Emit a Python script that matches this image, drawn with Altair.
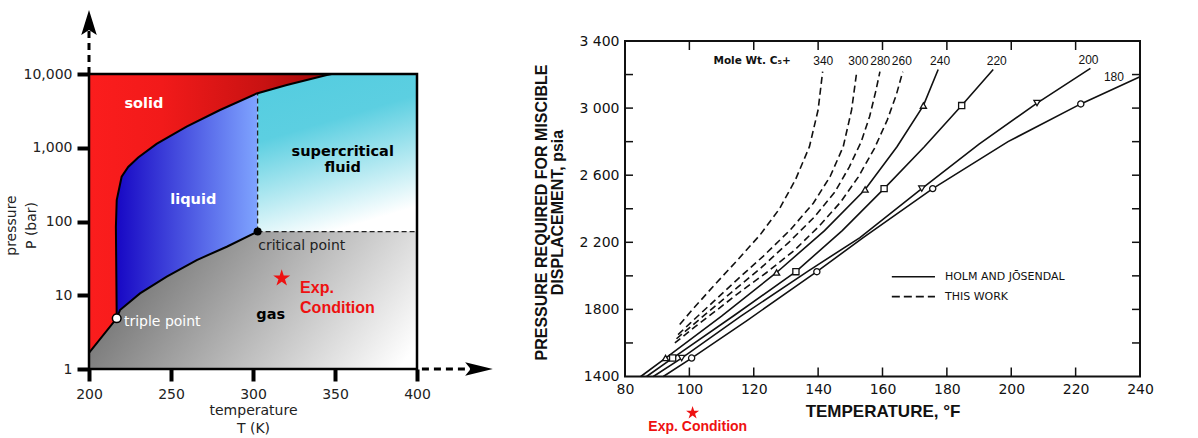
import altair as alt
import pandas as pd

# ======================= LEFT PANEL : phase diagram (T in K, P in bar) =======================
left_xticks = [200, 250, 300, 350, 400]
left_yticks = [1, 10, 100, 1000, 10000]
T_min, T_max = 200.0, 400.0
P_min, P_max = 1.0, 10000.0

# sublimation + vapour-pressure curve (triple point -> critical point)
subvap_T = [200.0, 216.9, 218.9, 231.1, 247.4, 265.7, 284.0, 302.8]
subvap_P = [1.66, 4.87, 6.3, 10.6, 17.9, 30.0, 45.5, 73.0]
# melting curve (from triple point up to the top of the frame)
melt_T = [216.9, 216.4, 216.9, 219.9, 223.9, 230.0, 241.2, 259.5, 279.9, 302.3, 320.6, 345.0, 348.0]
melt_P = [4.87, 85.0, 195.0, 405.0, 550.0, 736.0, 1130.0, 1940.0, 3250.0, 5450.0, 7100.0, 9690.0, 10000.0]

triple_T, triple_P = 216.9, 4.87
crit_T, crit_P = 302.8, 73.0
crit_top_P = 5450.0

region_text = ["solid", "liquid", "supercritical\nfluid", "gas"]
region_T = [233.5, 263.6, 354.7, 310.8]
region_P = [3920.0, 195.0, 884.0, 5.4]
region_col = ["white", "white", "black", "black"]

point_text = ["critical point", "triple point"]
point_T = [303.2, 221.3]
point_P = [46.5, 4.38]
point_col = ["#222222", "white"]

exp_left_T, exp_left_P = 317.5, 17.0
exp_left_text_T, exp_left_text_P = 328.7, 12.5

# axis arrows
arrow_up_T, arrow_up_P1, arrow_up_P2, arrow_up_head_P = 200.0, 10000.0, 42000.0, 50000.0
arrow_rt_P, arrow_rt_T1, arrow_rt_T2, arrow_rt_head_T = 1.0, 403.0, 438.0, 437.8

# ======================= RIGHT PANEL : MMP vs temperature =======================
right_xticks = [80, 100, 120, 140, 160, 180, 200, 220, 240]
right_yticks = [1400, 1800, 2200, 2600, 3000, 3400]
right_ylabels = ["1400", "1800", "2 200", "2 600", "3 000", "3 400"]
minor_psi = [1600, 1800, 2000, 2200, 2400, 2600, 2800, 3000, 3200]
minor_F = [100, 120, 140, 160, 180, 200, 220]
F_min, F_max = 80.0, 240.0
psi_min, psi_max = 1400.0, 3400.0

# solid curves (Holm and Josendal)
c240_F = [84.9, 92.6, 110.0, 127.1, 142.0, 154.6, 164.5, 172.7, 177.3]
c240_P = [1400, 1510, 1760, 2020, 2270, 2515, 2770, 3015, 3230]
c220_F = [86.7, 94.8, 114.0, 133.1, 147.5, 160.5, 173.0, 184.6, 194.4]
c220_P = [1400, 1510, 1765, 2025, 2270, 2520, 2770, 3015, 3230]
c200_F = [88.8, 97.6, 116.0, 137.0, 153.0, 172.2, 190.0, 208.0, 224.6]
c200_P = [1400, 1510, 1760, 2030, 2228, 2520, 2785, 3030, 3237]
c180_F = [91.9, 100.7, 118.0, 139.6, 154.0, 175.6, 199.0, 221.6, 240.0]
c180_P = [1400, 1510, 1735, 2025, 2228, 2520, 2800, 3025, 3187]
# dashed curves (this work)
c340_F = [97.0, 101.0, 108.0, 115.0, 122.0, 128.0, 133.0, 137.3, 140.0, 141.4]
c340_P = [1710, 1800, 1950, 2095, 2245, 2400, 2575, 2770, 2990, 3217]
c300_F = [96.5, 100.2, 107.4, 114.7, 123.0, 131.3, 138.5, 143.7, 147.8, 150.4, 152.0]
c300_P = [1650, 1717, 1845, 1975, 2118, 2273, 2433, 2591, 2770, 2989, 3217]
c280_F = [96.0, 103.7, 113.0, 122.4, 130.9, 138.8, 145.2, 149.7, 153.4, 156.0, 157.9, 159.2]
c280_P = [1625, 1750, 1900, 2050, 2200, 2350, 2500, 2650, 2800, 2950, 3100, 3217]
c260_F = [95.5, 102.0, 108.8, 115.8, 124.0, 132.5, 140.5, 147.0, 152.5, 157.5, 161.5, 164.3, 166.3]
c260_P = [1600, 1700, 1800, 1905, 2020, 2150, 2300, 2440, 2590, 2760, 2930, 3080, 3217]

curve_names = ["240", "220", "200", "180", "340", "300", "280", "260"]
curve_F = [c240_F, c220_F, c200_F, c180_F, c340_F, c300_F, c280_F, c260_F]
curve_P = [c240_P, c220_P, c200_P, c180_P, c340_P, c300_P, c280_P, c260_P]
curve_dashed = [False, False, False, False, True, True, True, True]

# data-point symbols on the solid curves
m240_F, m240_P = [92.6, 127.1, 154.6, 172.7], [1510, 2020, 2515, 3015]
m220_F, m220_P = [94.8, 133.1, 160.5, 184.6], [1510, 2025, 2520, 3015]
m200_F, m200_P = [97.6, 172.2, 208.0], [1510, 2520, 3030]
m180_F, m180_P = [100.7, 139.6, 175.6, 221.6], [1510, 2025, 2520, 3025]
marker_shapes = ["triangle-up", "square", "triangle-down", "circle"]

label_text = ["340", "300", "280", "260", "240", "220", "200", "180"]
label_F = [141.6, 152.5, 159.3, 166.0, 177.9, 195.5, 224.0, 231.9]
label_P = [3281, 3281, 3281, 3281, 3281, 3281, 3287, 3187]
molewt_F, molewt_P = 119.5, 3281

legend_text = ["HOLM AND JŌSENDAL", "THIS WORK"]
legend_P = [1995, 1876]
legend_F1, legend_F2, legend_text_F = 162.9, 176.3, 179.4

exp_right_F, exp_right_P = 101.0, 1183.0
exp_right_text_F, exp_right_text_P = 102.6, 1101.0

# ======================= scales / axes =======================
LX = alt.Scale(domain=[T_min, T_max], range=[89, 417], nice=False, zero=False)
LY = alt.Scale(type="log", domain=[P_min, P_max], range=[369, 74], nice=False)
RX = alt.Scale(domain=[F_min, F_max], range=[625, 1140], nice=False, zero=False)
RY = alt.Scale(domain=[psi_min, psi_max], range=[376.5, 41], nice=False, zero=False)

LXA = alt.Axis(orient="bottom", offset=-69, values=left_xticks, grid=False, domain=False,
               tickSize=12, tickWidth=4, tickColor="black", labelPadding=6, labelFlush=False,
               labelFont="DejaVu Sans", labelFontSize=14, labelColor="#222222",
               title=["temperature", "T (K)"], titleX=253, titleY=45.5, titleAlign="center",
               titleBaseline="alphabetic", titleFont="DejaVu Sans", titleFontSize=14,
               titleFontWeight="normal", titleLineHeight=17.5, titleColor="#222222")
LYA = alt.Axis(orient="left", offset=-89, values=left_yticks, format=",.0f", grid=False, domain=False,
               tickSize=12, tickWidth=4, tickColor="black", labelPadding=5,
               labelFont="DejaVu Sans", labelFontSize=14, labelColor="#222222",
               title=["pressure", "P (bar)"], titleX=-74, titleY=225, titleAngle=270, titleAlign="center",
               titleBaseline="alphabetic", titleFont="DejaVu Sans", titleFontSize=14,
               titleFontWeight="normal", titleLineHeight=20, titleColor="#222222")

ylab_expr = ""
for v, s in zip(right_yticks, right_ylabels):
    ylab_expr += f"datum.value == {v} ? '{s}' : "
ylab_expr += "datum.label"

RXA = alt.Axis(orient="bottom", offset=-61.5, values=right_xticks, grid=False, domain=False,
               ticks=False, tickSize=0, labelPadding=6, labelFlush=False,
               labelFont="DejaVu Sans", labelFontSize=14, labelColor="#111111",
               title="TEMPERATURE, °F", titleX=882.5, titleY=39.5, titleAlign="center",
               titleBaseline="alphabetic", titleFont="Liberation Sans", titleFontSize=17,
               titleFontWeight="bold", titleColor="#111111")
RYA = alt.Axis(orient="left", offset=-625, values=right_yticks, grid=False, domain=False,
               ticks=False, tickSize=0, labelPadding=6, labelExpr=ylab_expr,
               labelFont="DejaVu Sans", labelFontSize=14, labelColor="#111111",
               title=["PRESSURE REQUIRED FOR MISCIBLE", "DISPLACEMENT, psia"], titleX=-78.3, titleY=212,
               titleAngle=270, titleAlign="center", titleBaseline="alphabetic",
               titleFont="Liberation Sans", titleFontSize=16, titleFontWeight="bold",
               titleLineHeight=16, titleColor="#111111")


def lx(f):
    return alt.X(f + ":Q", scale=LX, axis=LXA)


def ly(f):
    return alt.Y(f + ":Q", scale=LY, axis=LYA)


def rx(f):
    return alt.X(f + ":Q", scale=RX, axis=RXA)


def ry(f):
    return alt.Y(f + ":Q", scale=RY, axis=RYA)


def gstops(pairs):
    return [alt.GradientStop(color=c, offset=o) for c, o in pairs]


grad_solid = alt.Gradient(gradient="linear", x1=0, y1=0, x2=1, y2=0,
                          stops=gstops([("#fb1d1d", 0), ("#f21a1a", 0.3), ("#c81212", 0.72), ("#9e0606", 1)]))
grad_liq = alt.Gradient(gradient="linear", x1=0, y1=0, x2=1, y2=0,
                        stops=gstops([("#1707c4", 0), ("#7fa4ff", 1)]))
grad_sc = alt.Gradient(gradient="linear", x1=0.35, y1=0, x2=0.65, y2=1,
                       stops=gstops([("#55cde0", 0), ("#5ccfe1", 0.3), ("#ffffff", 0.95)]))
grad_gas = alt.Gradient(gradient="linear", x1=0.24, y1=0.07, x2=1.197, y2=0.372,
                        stops=gstops([("#7b7b7b", 0), ("#ffffff", 0.95), ("#ffffff", 1)]))

STAR = ("M0,-1L0.2245,-0.309L0.9511,-0.309L0.3633,0.118L0.5878,0.809L0,0.382"
        "L-0.5878,0.809L-0.3633,0.118L-0.9511,-0.309L-0.2245,-0.309Z")
RED = "#ee1111"

# ---------------- left layers ----------------
sc_df = pd.DataFrame({"T": [crit_T], "T2": [T_max], "P": [crit_P], "P2": [P_max]})
sc = alt.Chart(sc_df).mark_rect(fill=grad_sc).encode(x=lx("T"), x2="T2:Q", y=ly("P"), y2="P2:Q")

liq_df = pd.DataFrame({"T": [t for t, p in zip(melt_T, melt_P) if p <= crit_top_P],
                       "P": [p for p in melt_P if p <= crit_top_P]})
liq_df["Tc"] = crit_T
liq = alt.Chart(liq_df).mark_area(orient="horizontal", color=grad_liq, opacity=1).encode(
    y=ly("P"), x=lx("T"), x2="Tc:Q")

solid_df = pd.DataFrame({"T": [triple_T] + melt_T, "P": [P_min] + melt_P})
solid_df["T0"] = T_min
solid = alt.Chart(solid_df).mark_area(orient="horizontal", color=grad_solid, opacity=1).encode(
    y=ly("P"), x=lx("T0"), x2="T:Q")

gas_df = pd.DataFrame({"T": subvap_T + [T_max], "P": subvap_P + [crit_P]})
gas_df["P0"] = P_min
gas = alt.Chart(gas_df).mark_area(orient="vertical", color=grad_gas, opacity=1).encode(
    x=lx("T"), y=ly("P"), y2="P0:Q")

melt_df = pd.DataFrame({"T": melt_T, "P": melt_P, "i": list(range(len(melt_T)))})
melt_line = alt.Chart(melt_df).mark_line(color="black", strokeWidth=2).encode(
    x=lx("T"), y=ly("P"), order="i:Q")
sv_df = pd.DataFrame({"T": subvap_T, "P": subvap_P, "i": list(range(len(subvap_T)))})
sv_line = alt.Chart(sv_df).mark_line(color="black", strokeWidth=2).encode(
    x=lx("T"), y=ly("P"), order="i:Q")

vdash = alt.Chart(pd.DataFrame({"T": [crit_T], "P": [crit_P], "P2": [crit_top_P]})).mark_rule(
    color="#222222", strokeWidth=1.3, strokeDash=[5, 3]).encode(x=lx("T"), y=ly("P"), y2="P2:Q")
hdash = alt.Chart(pd.DataFrame({"T": [crit_T], "T2": [T_max], "P": [crit_P]})).mark_rule(
    color="#222222", strokeWidth=1.3, strokeDash=[5, 3]).encode(x=lx("T"), x2="T2:Q", y=ly("P"))

frame_l = alt.Chart(pd.DataFrame({"T": [T_min], "T2": [T_max], "P": [P_min], "P2": [P_max]})).mark_rect(
    fillOpacity=0, stroke="black", strokeWidth=2.5).encode(x=lx("T"), x2="T2:Q", y=ly("P"), y2="P2:Q")

crit_pt = alt.Chart(pd.DataFrame({"T": [crit_T], "P": [crit_P]})).mark_point(
    shape="circle", filled=True, color="black", size=65, opacity=1).encode(x=lx("T"), y=ly("P"))
trip_pt = alt.Chart(pd.DataFrame({"T": [triple_T], "P": [triple_P]})).mark_point(
    shape="circle", filled=True, fill="white", stroke="black", strokeWidth=1.5, size=75, opacity=1).encode(
    x=lx("T"), y=ly("P"))

reg_df = pd.DataFrame({"T": region_T, "P": region_P, "text": region_text, "c": region_col})
reg_txt = alt.Chart(reg_df).mark_text(font="DejaVu Sans", fontSize=14.5, fontWeight="bold",
                                      lineBreak="\n", lineHeight=16.7, align="center", baseline="middle").encode(
    x=lx("T"), y=ly("P"), text="text:N", color=alt.Color("c:N", scale=None))
pt_df = pd.DataFrame({"T": point_T, "P": point_P, "text": point_text, "c": point_col})
pt_txt = alt.Chart(pt_df).mark_text(font="DejaVu Sans", fontSize=14, align="left", baseline="middle").encode(
    x=lx("T"), y=ly("P"), text="text:N", color=alt.Color("c:N", scale=None))

star_l = alt.Chart(pd.DataFrame({"T": [exp_left_T], "P": [exp_left_P]})).mark_point(
    shape=STAR, filled=True, color=RED, size=320, opacity=1).encode(x=lx("T"), y=ly("P"))
exp_l = alt.Chart(pd.DataFrame({"T": [exp_left_text_T], "P": [exp_left_text_P], "text": ["Exp.\nCondition"]})).mark_text(
    font="Liberation Sans", fontSize=16, fontWeight="bold", color=RED, lineBreak="\n", lineHeight=19.5,
    align="left", baseline="middle").encode(x=lx("T"), y=ly("P"), text="text:N")

up_line = alt.Chart(pd.DataFrame({"T": [arrow_up_T], "P": [arrow_up_P1], "P2": [arrow_up_P2]})).mark_rule(
    color="black", strokeWidth=3, strokeDash=[7, 5]).encode(x=lx("T"), y=ly("P"), y2="P2:Q")
up_head = alt.Chart(pd.DataFrame({"T": [arrow_up_T], "P": [arrow_up_head_P]})).mark_point(
    shape="M0,-1L0.62,1L0,0.6L-0.62,1Z", filled=True, color="black", size=625, opacity=1).encode(
    x=lx("T"), y=ly("P"))
rt_line = alt.Chart(pd.DataFrame({"T": [arrow_rt_T1], "T2": [arrow_rt_T2], "P": [arrow_rt_P]})).mark_rule(
    color="black", strokeWidth=3, strokeDash=[7, 5]).encode(x=lx("T"), x2="T2:Q", y=ly("P"))
rt_head = alt.Chart(pd.DataFrame({"T": [arrow_rt_head_T], "P": [arrow_rt_P]})).mark_point(
    shape="M1,0L-1,-0.48L-0.6,0L-1,0.48Z", filled=True, color="black", size=767, opacity=1).encode(
    x=lx("T"), y=ly("P"))

left = alt.layer(sc, liq, solid, gas, vdash, hdash, melt_line, sv_line, frame_l, crit_pt, trip_pt,
                 reg_txt, pt_txt, star_l, exp_l, up_line, up_head, rt_line, rt_head)

# ---------------- right layers ----------------
rows = []
for name, Fs, Ps, d in zip(curve_names, curve_F, curve_P, curve_dashed):
    for i, (f, p) in enumerate(zip(Fs, Ps)):
        rows.append({"F": f, "psi": p, "curve": name, "i": i, "dashed": d})
curves_df = pd.DataFrame(rows)
solid_lines = alt.Chart(curves_df[~curves_df["dashed"]]).mark_line(color="#111111", strokeWidth=1.6).encode(
    x=rx("F"), y=ry("psi"), detail="curve:N", order="i:Q")
dashed_lines = alt.Chart(curves_df[curves_df["dashed"]]).mark_line(
    color="#111111", strokeWidth=1.6, strokeDash=[7, 4]).encode(
    x=rx("F"), y=ry("psi"), detail="curve:N", order="i:Q")

mrows = []
for Fs, Ps, shp in zip([m240_F, m220_F, m200_F, m180_F], [m240_P, m220_P, m200_P, m180_P], marker_shapes):
    for f, p in zip(Fs, Ps):
        mrows.append({"F": f, "psi": p, "shape": shp})
markers = alt.Chart(pd.DataFrame(mrows)).mark_point(
    filled=True, fill="white", stroke="#111111", strokeWidth=1.3, size=38, opacity=1).encode(
    x=rx("F"), y=ry("psi"), shape=alt.Shape("shape:N", scale=None))

lab_df = pd.DataFrame({"F": label_F, "psi": label_P, "text": label_text})
labels = alt.Chart(lab_df).mark_text(font="Liberation Sans", fontSize=12, color="#111111",
                                     align="center", baseline="middle").encode(
    x=rx("F"), y=ry("psi"), text="text:N")
molewt = alt.Chart(pd.DataFrame({"F": [molewt_F], "psi": [molewt_P], "text": ["Mole Wt. C₅+"]})).mark_text(
    font="DejaVu Sans", fontSize=10.5, fontWeight="bold", color="#111111", align="center", baseline="middle").encode(
    x=rx("F"), y=ry("psi"), text="text:N")

leg_df = pd.DataFrame({"F": [legend_F1] * 2, "F2": [legend_F2] * 2, "psi": legend_P})
leg_solid = alt.Chart(leg_df.iloc[[0]]).mark_rule(color="#111111", strokeWidth=1.6).encode(
    x=rx("F"), x2="F2:Q", y=ry("psi"))
leg_dash = alt.Chart(leg_df.iloc[[1]]).mark_rule(color="#111111", strokeWidth=1.8, strokeDash=[8, 4]).encode(
    x=rx("F"), x2="F2:Q", y=ry("psi"))
leg_txt = alt.Chart(pd.DataFrame({"F": [legend_text_F] * 2, "psi": legend_P, "text": legend_text})).mark_text(
    font="DejaVu Sans", fontSize=11, color="#111111", align="left", baseline="middle").encode(
    x=rx("F"), y=ry("psi"), text="text:N")

frame_r = alt.Chart(pd.DataFrame({"F": [F_min], "F2": [F_max], "psi": [psi_min], "psi2": [psi_max]})).mark_rect(
    fillOpacity=0, stroke="#111111", strokeWidth=2).encode(x=rx("F"), x2="F2:Q", y=ry("psi"), y2="psi2:Q")

tk_left = alt.Chart(pd.DataFrame({"F": [F_min] * len(minor_psi), "psi": minor_psi})).mark_tick(
    orient="horizontal", size=8, thickness=1.5, xOffset=4, color="#111111", opacity=1).encode(x=rx("F"), y=ry("psi"))
tk_right = alt.Chart(pd.DataFrame({"F": [F_max] * len(minor_psi), "psi": minor_psi})).mark_tick(
    orient="horizontal", size=8, thickness=1.5, xOffset=-4, color="#111111", opacity=1).encode(x=rx("F"), y=ry("psi"))
tk_top = alt.Chart(pd.DataFrame({"F": minor_F, "psi": [psi_max] * len(minor_F)})).mark_tick(
    orient="vertical", size=9, thickness=1.5, yOffset=4.5, color="#111111", opacity=1).encode(x=rx("F"), y=ry("psi"))
tk_bot = alt.Chart(pd.DataFrame({"F": minor_F, "psi": [psi_min] * len(minor_F)})).mark_tick(
    orient="vertical", size=9, thickness=1.5, yOffset=-4.5, color="#111111", opacity=1).encode(x=rx("F"), y=ry("psi"))

star_r = alt.Chart(pd.DataFrame({"F": [exp_right_F], "psi": [exp_right_P]})).mark_point(
    shape=STAR, filled=True, color=RED, size=187, opacity=1).encode(x=rx("F"), y=ry("psi"))
exp_r = alt.Chart(pd.DataFrame({"F": [exp_right_text_F], "psi": [exp_right_text_P], "text": ["Exp. Condition"]})).mark_text(
    font="Liberation Sans", fontSize=14, fontWeight="bold", color=RED, align="center", baseline="middle").encode(
    x=rx("F"), y=ry("psi"), text="text:N")

right = alt.layer(solid_lines, dashed_lines, markers, labels, molewt, leg_solid, leg_dash, leg_txt,
                  frame_r, tk_left, tk_right, tk_top, tk_bot, star_r, exp_r)

chart = alt.layer(left, right).resolve_scale(x="independent", y="independent").properties(
    width=1198, height=438,
    autosize=alt.AutoSizeParams(type="none"),
    padding={"left": 0, "top": 0, "right": 0, "bottom": 0},
    background="white",
).configure_view(strokeWidth=0)

chart.save("out.html", embed_options={"renderer": "svg", "actions": False})
